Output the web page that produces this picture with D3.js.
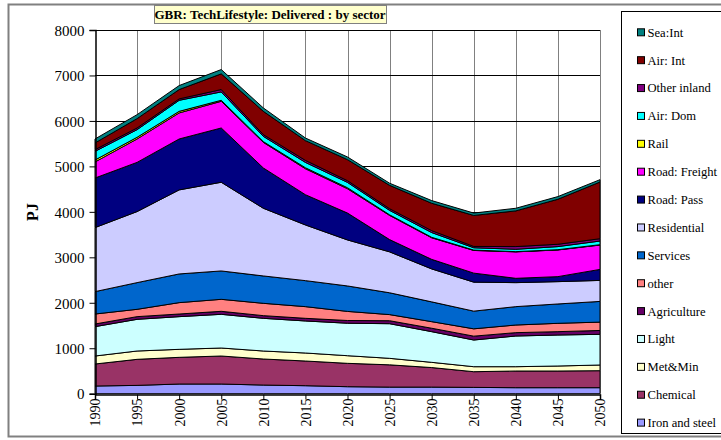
<!DOCTYPE html>
<html>
<head>
<meta charset="utf-8">
<script src="https://cdn.jsdelivr.net/npm/d3@7"></script>
<style>
  body { margin: 0; background: #fff; }
  svg text { font-family: "Liberation Serif", "Times New Roman", serif; }
</style>
</head>
<body>
<div id="chart"></div>
<script>
// years on the x axis
var years = [1990, 1995, 2000, 2005, 2010, 2015, 2020, 2025, 2030, 2035, 2040, 2045, 2050];

// series values (PJ), bottom layer first
var ironSteel   = [169, 183, 213, 213, 190, 176, 154, 145, 145, 139, 132, 132, 132];
var chemical    = [484, 573, 587, 616, 573, 543, 514, 490, 430, 345, 367, 367, 374];
var metMin      = [176, 183, 176, 176, 176, 176, 168, 143, 115, 110, 95, 110, 125];
var light       = [646, 697, 719, 741, 719, 705, 714, 762, 675, 587, 675, 682, 675];
var agriculture = [58, 59, 58, 66, 59, 58, 60, 65, 75, 85, 74, 74, 85];
var otherInd    = [220, 161, 250, 264, 271, 257, 200, 135, 145, 161, 168, 183, 184];
var services    = [492, 587, 631, 624, 602, 572, 560, 480, 435, 389, 404, 426, 455];
var residential = [1409, 1563, 1849, 1951, 1489, 1225, 1012, 900, 725, 638, 528, 491, 462];
var roadPass    = [1090, 1082, 1120, 1194, 886, 665, 591, 270, 210, 198, 95, 110, 242];
var roadFreight = [353, 515, 573, 587, 564, 572, 536, 532, 475, 499, 582, 587, 536];
var rail        = [43, 37, 35, 22, 16, 21, 21, 13, 10, 8, 5, 6, 8];
var airDom      = [190, 168, 243, 184, 116, 118, 118, 98, 105, 51, 52, 68, 80];
var otherInland = [38, 37, 31, 52, 37, 44, 37, 36, 42, 29, 59, 51, 51];
var airInt      = [147, 205, 205, 345, 513, 434, 463, 514, 602, 682, 785, 990, 1247];
var seaInt      = [88, 88, 88, 95, 75, 58, 59, 47, 59, 52, 58, 59, 52];

var seriesNames = ["Iron and steel", "Chemical", "Met&Min", "Light", "Agriculture", "other",
  "Services", "Residential", "Road: Pass", "Road: Freight", "Rail", "Air: Dom",
  "Other inland", "Air: Int", "Sea:Int"];
var seriesValues = [ironSteel, chemical, metMin, light, agriculture, otherInd, services,
  residential, roadPass, roadFreight, rail, airDom, otherInland, airInt, seaInt];
var seriesColors = ["#9999FF", "#993366", "#FFFFCC", "#CCFFFF", "#660066", "#FF8080",
  "#0066CC", "#CCCCFF", "#000080", "#FF00FF", "#FFFF00", "#00FFFF", "#800080",
  "#800000", "#008080"];

var yTicks = [0, 1000, 2000, 3000, 4000, 5000, 6000, 7000, 8000];

var serif = '"Liberation Serif", "Times New Roman", serif';

// table for d3.stack
var table = years.map(function (yr, i) {
  var row = { year: yr };
  seriesNames.forEach(function (n, k) { row[n] = seriesValues[k][i]; });
  return row;
});

var W = 721, H = 440;
var svg = d3.select('#chart').append('svg')
  .attr('width', W).attr('height', H)
  .attr('font-family', serif);

// outer frame
svg.append('rect')
  .attr('x', 8.5).attr('y', 4.5).attr('width', W).attr('height', 432)
  .style('fill', '#fff').style('stroke', '#808080').style('stroke-width', 2);

var x = d3.scaleLinear().domain([1990, 2050]).range([95, 600]);
var y = d3.scaleLinear().domain([0, 8000]).range([393.7, 30]);

// grid
svg.append('g').selectAll('line').data(years.slice(1)).join('line')
  .attr('x1', d => Math.round(x(d)) + 0.5).attr('x2', d => Math.round(x(d)) + 0.5)
  .attr('y1', y(8000)).attr('y2', y(0))
  .style('stroke', '#808080').style('stroke-width', 1);
svg.append('g').selectAll('line').data(yTicks.slice(1)).join('line')
  .attr('x1', x(1990)).attr('x2', x(2050))
  .attr('y1', d => Math.round(y(d)) + 0.5).attr('y2', d => Math.round(y(d)) + 0.5)
  .style('stroke', '#000').style('stroke-width', 1);

var stack = d3.stack().keys(seriesNames);
var layers = stack(table);

var area = d3.area()
  .x(d => x(d.data.year))
  .y0(d => y(d[0]))
  .y1(d => y(d[1]));

svg.append('g').selectAll('path').data(layers).join('path')
  .attr('d', area)
  .style('fill', (d, i) => seriesColors[i])
  .style('stroke', '#000')
  .style('stroke-width', 1)
  .style('stroke-linejoin', 'round');

// axes
var yAxis = d3.axisLeft(y).tickValues(yTicks).tickSize(6).tickFormat(d3.format('d'));
var gy = svg.append('g').attr('transform', 'translate(95.5,0)').call(yAxis)
  .attr('font-family', serif);
gy.select('.domain').style('stroke', '#000').style('stroke-width', 1.5);
gy.selectAll('.tick line').style('stroke', '#000');
gy.selectAll('text').style('font-size', '15px').style('fill', '#000')
  .attr('x', -11).attr('dy', '0.35em');

var xAxis = d3.axisBottom(x).tickValues(years).tickSize(5).tickFormat(d3.format('d'));
var gx = svg.append('g').attr('transform', 'translate(0,394.5)').call(xAxis)
  .attr('font-family', serif);
gx.select('.domain').style('stroke', '#000').style('stroke-width', 1.5);
gx.selectAll('.tick line').style('stroke', '#000');
gx.selectAll('text')
  .style('font-size', '14px').style('fill', '#000')
  .attr('transform', 'rotate(-90)')
  .attr('x', -4).attr('y', 0).attr('dy', '0.35em')
  .style('text-anchor', 'end');

// y label
svg.append('text')
  .attr('transform', 'translate(38,212) rotate(-90)')
  .style('text-anchor', 'middle')
  .style('font-size', '16px').style('font-weight', 'bold')
  .text('PJ');

// title
svg.append('rect')
  .attr('x', 154.5).attr('y', 5.5).attr('width', 232).attr('height', 18)
  .style('fill', '#FFFFCC').style('stroke', '#808080').style('stroke-width', 1);
svg.append('text')
  .attr('x', 270).attr('y', 19)
  .style('text-anchor', 'middle')
  .style('font-size', '13px').style('font-weight', 'bold')
  .text('GBR: TechLifestyle: Delivered : by sector');

// legend, top entry is the last series
var legend = svg.append('g');
legend.append('rect')
  .attr('x', 621.5).attr('y', 11.5).attr('width', 110).attr('height', 422)
  .style('fill', '#fff').style('stroke', '#000').style('stroke-width', 1);
var legendItems = seriesNames.map((n, i) => ({ name: n, color: seriesColors[i] })).reverse();
var li = legend.selectAll('g.item').data(legendItems).join('g')
  .attr('class', 'item')
  .attr('transform', (d, i) => `translate(637,${32.3 + i * 27.88})`);
li.append('rect')
  .attr('x', 0.5).attr('y', -3.5).attr('width', 7).attr('height', 7)
  .style('fill', d => d.color).style('stroke', '#000').style('stroke-width', 1);
li.append('text')
  .attr('x', 10.5).attr('y', 0).attr('dy', '0.35em')
  .style('font-size', '12.6px')
  .style('font-family', serif)
  .text(d => d.name);
</script>
</body>
</html>
